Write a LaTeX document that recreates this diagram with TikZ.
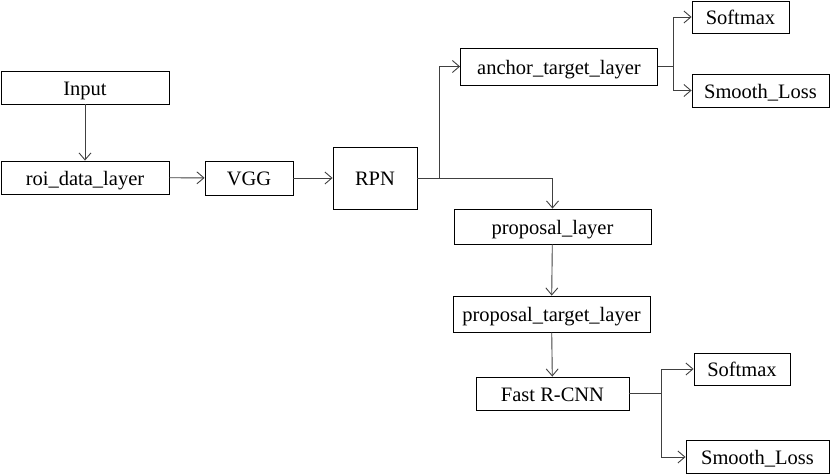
\documentclass[tikz,border=0pt]{standalone}
\usepackage{fontspec}
\setmainfont{Liberation Serif}
\usetikzlibrary{arrows.meta}
\begin{document}
\begin{tikzpicture}[x=1pt,y=-1pt,
  box/.style={draw=black, line width=0.9pt, inner sep=0pt, text height=15pt, text depth=0pt, font=\fontsize{20.5}{24}\selectfont, anchor=center},
  arr/.style={draw=black!75, line width=0.9pt, -{Straight Barb[length=7pt,width=12pt]}},
  ln/.style={draw=black!75, line width=0.9pt}]
\useasboundingbox (0,0) rectangle (830,475);
\node[box, minimum width=168pt, minimum height=33pt] (input) at (85,87.5) {Input};
\node[box, minimum width=168pt, minimum height=33pt] (roi) at (85,177.5) {roi\_data\_layer};
\node[box, minimum width=88pt, minimum height=34pt] (vgg) at (249,178) {VGG};
\node[box, minimum width=84pt, minimum height=62pt] (rpn) at (375,178) {RPN};
\node[box, minimum width=197pt, minimum height=37pt] (anchor) at (559,66.5) {anchor\_target\_layer};
\node[box, minimum width=97pt, minimum height=32pt] (sm1) at (740.5,17) {Softmax};
\node[box, minimum width=137pt, minimum height=33pt] (sl1) at (760.5,90.5) {Smooth\_Loss};
\node[box, minimum width=197pt, minimum height=35pt] (prop) at (552.5,226.5) {proposal\_layer};
\node[box, minimum width=197pt, minimum height=36pt] (ptl) at (551.5,314) {proposal\_target\_layer};
\node[box, minimum width=153pt, minimum height=33pt] (frcnn) at (552.5,393.5) {Fast R-CNN};
\node[box, minimum width=96pt, minimum height=32pt] (sm2) at (742,369) {Softmax};
\node[box, minimum width=143pt, minimum height=33pt] (sl2) at (757.5,457) {Smooth\_Loss};

\draw[arr] (input) -- (roi);
\draw[arr] (roi) -- (vgg);
\draw[arr] (vgg) -- (rpn);
\draw[ln] (rpn.east) -- ++(22,0) coordinate (j0);
\draw[arr] (j0) |- (anchor.west);
\draw[arr] (j0) -| (prop.north);
\draw[arr] (prop) -- (ptl);
\draw[arr] (ptl) -- (frcnn);
\draw[ln] (anchor.east) -- ++(15,0) coordinate (j1);
\draw[arr] (j1) |- (sm1.west);
\draw[arr] (j1) |- (sl1.west);
\draw[ln] (frcnn.east) -- ++(32,0) coordinate (j2);
\draw[arr] (j2) |- (sm2.west);
\draw[arr] (j2) |- (sl2.west);
\end{tikzpicture}
\end{document}
